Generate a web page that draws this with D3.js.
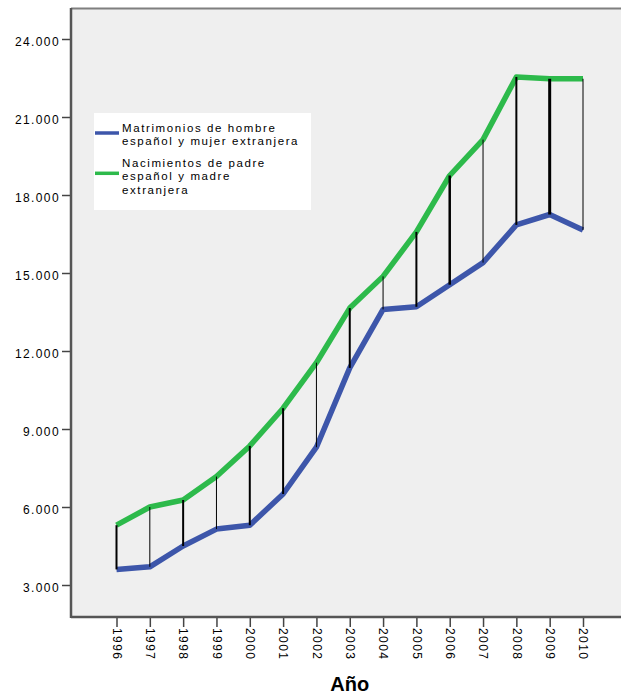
<!DOCTYPE html>
<html>
<head>
<meta charset="utf-8">
<script src="https://cdn.jsdelivr.net/npm/d3@7/dist/d3.min.js"></script>
<style>
html,body{margin:0;padding:0;background:#fff;}
svg{display:block;}
text{font-family:"Liberation Sans",Arial,sans-serif;fill:#000;}
</style>
</head>
<body>
<svg id="chart" width="621" height="694"></svg>
<script>
const years = [1996,1997,1998,1999,2000,2001,2002,2003,2004,2005,2006,2007,2008,2009,2010];
const matrimonios = [3600,3700,4500,5150,5300,6500,8300,11350,13600,13700,14550,15400,16850,17250,16650];
const nacimientos = [5300,6000,6270,7170,8350,9800,11550,13650,14870,16580,18750,20130,22540,22470,22470];
const yTicks = [3000,6000,9000,12000,15000,18000,21000,24000];
const seriesNames = [
  ["Matrimonios de hombre","español y mujer extranjera"],
  ["Nacimientos de padre","español y madre","extranjera"]
];
const xTitle = "Año";

const W = 621, H = 694;
const plot = {left:71, top:8, right:640, bottom:617};
const svg = d3.select("#chart");

const x = d3.scalePoint().domain(years).range([116.5, 583]);
const y = d3.scaleLinear().domain([3000, 24000]).range([585, 39]);

const locale = d3.formatLocale({decimal:",", thousands:".", grouping:[3], currency:["",""]});
const fmt = locale.format(",d");

// plot background
svg.append("rect").attr("x", plot.left).attr("y", plot.top)
  .attr("width", plot.right - plot.left).attr("height", plot.bottom - plot.top)
  .attr("fill", "#efefef");
// top border
svg.append("line").attr("x1", plot.left).attr("x2", plot.right)
  .attr("y1", plot.top + 0.5).attr("y2", plot.top + 0.5)
  .attr("stroke", "#7f7f7f").attr("stroke-width", 2);

// series lines
const colors = ["#3d56aa", "#2dba4b"];
const data = [matrimonios, nacimientos];
const line = d3.line().x((d,i) => x(years[i])).y(d => y(d));
data.forEach((s, k) => {
  svg.append("path").datum(s).attr("d", line)
    .attr("fill", "none").attr("stroke", colors[k])
    .attr("stroke-width", 5.5).attr("stroke-linejoin", "round");
});

// drop lines (high-low)
svg.append("g").selectAll("line").data(years).join("line")
  .attr("x1", d => x(d)).attr("x2", d => x(d))
  .attr("y1", (d,i) => y(nacimientos[i])).attr("y2", (d,i) => y(matrimonios[i]))
  .attr("stroke", "#000").attr("stroke-width", (d,i) => [2,1,2,1,2,2,1,2,1,2,2.5,1,2,3,1][i]);

// y axis
const yAxis = svg.append("g").attr("transform", `translate(${plot.left},0)`)
  .call(d3.axisLeft(y).tickValues(yTicks).tickFormat(fmt).tickSize(9).tickPadding(2));
yAxis.select(".domain").remove();
yAxis.selectAll(".tick line").attr("stroke", "#444").attr("stroke-width", 1.5);
yAxis.selectAll(".tick text").attr("font-size", 12).attr("letter-spacing", "1.4px")
  .attr("dy", "0.55em").style("font-family", "'Liberation Sans',Arial,sans-serif");
svg.append("line").attr("x1", plot.left).attr("x2", plot.left)
  .attr("y1", plot.top).attr("y2", plot.bottom + 1)
  .attr("stroke", "#555").attr("stroke-width", 2.5);

// x axis
const xAxis = svg.append("g").attr("transform", `translate(0,${plot.bottom})`)
  .call(d3.axisBottom(x).tickSize(10).tickPadding(2));
xAxis.select(".domain").remove();
xAxis.selectAll(".tick line").attr("stroke", "#444").attr("stroke-width", 1.5);
xAxis.selectAll(".tick text")
  .attr("font-size", 12).attr("letter-spacing", "1.4px")
  .style("font-family", "'Liberation Sans',Arial,sans-serif")
  .attr("text-anchor", "start")
  .attr("transform", "rotate(90)")
  .attr("x", 11).attr("y", 0).attr("dy", "0.35em");
svg.append("line").attr("x1", plot.left).attr("x2", plot.right)
  .attr("y1", plot.bottom).attr("y2", plot.bottom)
  .attr("stroke", "#555").attr("stroke-width", 2.5);

// x title
svg.append("text").attr("x", (x(years[0]) + x(years[years.length-1])) / 2).attr("y", 691)
  .attr("text-anchor", "middle").attr("font-size", 20).attr("font-weight", "bold")
  .text(xTitle);

// legend
const lg = svg.append("g");
lg.append("rect").attr("x", 94).attr("y", 113).attr("width", 217).attr("height", 97).attr("fill", "#fff");
const legendItems = [
  {lines: seriesNames[0], baseline: 131.5, swatch: 133},
  {lines: seriesNames[1], baseline: 166.7, swatch: 173.3}
];
legendItems.forEach((it, k) => {
  lg.append("line").attr("x1", 95).attr("x2", 119).attr("y1", it.swatch).attr("y2", it.swatch)
    .attr("stroke", colors[k]).attr("stroke-width", 3.5);
  it.lines.forEach((s, j) => {
    lg.append("text").attr("x", 122).attr("y", it.baseline + j * 13.4)
      .attr("font-size", 11.5).attr("letter-spacing", "1.6px").text(s);
  });
});
</script>
</body>
</html>
